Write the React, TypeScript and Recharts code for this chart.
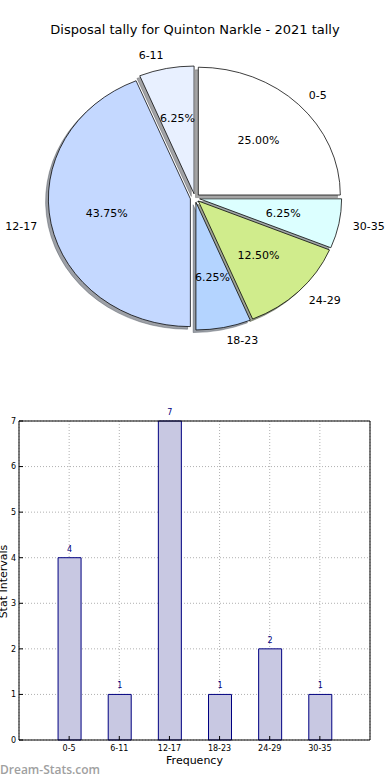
import React from 'react';
import {
  PieChart, Pie, Cell, BarChart, Bar, XAxis, YAxis, CartesianGrid, LabelList, Label,
} from 'recharts';

const categories = ['0-5', '6-11', '12-17', '18-23', '24-29', '30-35'];
const counts = [4, 1, 7, 1, 2, 1];
const pieColors = ['#ffffff', '#e8f0ff', '#c4d8ff', '#b4d4ff', '#d0ec8c', '#dcffff'];
const xPositions = [1, 2, 3, 4, 5, 6];
const yTicks = [0, 1, 2, 3, 4, 5, 6, 7];

const FONT = '"DejaVu Sans", sans-serif';
const CX = 195;
const CY = 198;
const R = 142;
const KY = 0.9;
const EXPLODE = 4.7;
const SHADOW_DX = -2.8;
const SHADOW_DY = 2.6;
const RAD = Math.PI / 180;

const total = counts.reduce((a, b) => a + b, 0);
const midAngles = counts.map((v, i) => {
  const before = counts.slice(0, i).reduce((a, b) => a + b, 0);
  return ((before + v / 2) / total) * 360;
});

const pieData = categories.map((name, i) => ({ name, value: counts[i] }));
const barData = categories.map((name, i) => ({ x: xPositions[i], name, value: counts[i] }));

function shadowColor(hex: string) {
  const n = parseInt(hex.slice(1), 16);
  const r = Math.round(((n >> 16) & 255) * 0.3);
  const g = Math.round(((n >> 8) & 255) * 0.3);
  const b = Math.round((n & 255) * 0.3);
  return `rgb(${r},${g},${b})`;
}

function sectorStyle(i: number, extraX: number, extraY: number): React.CSSProperties {
  const m = midAngles[i] * RAD;
  const dx = EXPLODE * Math.cos(m) + extraX;
  const dy = -EXPLODE * Math.sin(m) * KY + extraY;
  return {
    transform: `translate(${dx}px, ${dy}px) scale(1, ${KY})`,
    transformOrigin: `${CX}px ${CY}px`,
  };
}

const renderPieLabel = (p: any) => {
  const c = Math.cos(p.midAngle * RAD);
  const s = Math.sin(p.midAngle * RAD);
  const nr = EXPLODE + 1.1 * p.outerRadius;
  const pr = EXPLODE + 0.6 * p.outerRadius;
  return (
    <g key={`lbl-${p.index}`}>
      <text
        x={p.cx + nr * c}
        y={p.cy - nr * s * KY}
        textAnchor={c > 0 ? 'start' : 'end'}
        dominantBaseline="central"
        fontSize={11}
        fontFamily={FONT}
        fill="#000"
      >
        {p.name}
      </text>
      <text
        x={p.cx + pr * c}
        y={p.cy - pr * s * KY}
        textAnchor="middle"
        dominantBaseline="central"
        fontSize={11}
        fontFamily={FONT}
        fill="#000"
      >
        {(p.percent * 100).toFixed(2)}%
      </text>
    </g>
  );
};

export default function App() {
  return (
    <div style={{ position: 'absolute', left: 0, top: 0, width: 390, height: 780, background: '#fff', fontFamily: FONT, overflow: 'hidden' }}>
      <div
        style={{
          position: 'absolute', left: 0, top: 22, width: 390, textAlign: 'center',
          fontSize: 13, lineHeight: '15px', fontFamily: FONT, color: '#000',
        }}
      >
        Disposal tally for Quinton Narkle - 2021 tally
      </div>
      <div style={{ position: 'absolute', left: 0, top: 0 }}>
        <PieChart width={390} height={380} margin={{ top: 0, right: 0, bottom: 0, left: 0 }}>
          <Pie
            data={pieData}
            dataKey="value"
            nameKey="name"
            cx={CX}
            cy={CY}
            outerRadius={R}
            startAngle={0}
            endAngle={360}
            isAnimationActive={false}
            stroke="none"
          >
            {pieData.map((d, i) => (
              <Cell
                key={`s-${i}`}
                fill={shadowColor(pieColors[i])}
                fillOpacity={0.5}
                stroke={shadowColor(pieColors[i])}
                strokeOpacity={0.5}
                strokeWidth={0.8}
                style={sectorStyle(i, SHADOW_DX, SHADOW_DY)}
              />
            ))}
          </Pie>
          <Pie
            data={pieData}
            dataKey="value"
            nameKey="name"
            cx={CX}
            cy={CY}
            outerRadius={R}
            startAngle={0}
            endAngle={360}
            isAnimationActive={false}
            label={renderPieLabel}
            labelLine={false}
          >
            {pieData.map((d, i) => (
              <Cell
                key={`c-${i}`}
                fill={pieColors[i]}
                stroke="#000"
                strokeWidth={0.8}
                style={sectorStyle(i, 0, 0)}
              />
            ))}
          </Pie>
        </PieChart>
      </div>
      <div style={{ position: 'absolute', left: 0, top: 400 }}>
        <BarChart width={390} height={380} data={barData} margin={{ top: 0, right: 0, bottom: 0, left: 0 }}>
          <CartesianGrid stroke="#b0b0b0" strokeDasharray="1 2" />
          <XAxis
            dataKey="x"
            type="number"
            domain={[0, 7]}
            ticks={xPositions}
            interval={0}
            height={40}
            tickFormatter={(v: number) => categories[v - 1]}
            tick={{ fontSize: 8, fill: '#000', fontFamily: FONT }}
            tickSize={-4}
            tickMargin={9}
            axisLine={{ stroke: '#000' }}
            tickLine={{ stroke: '#000' }}
          >
            <Label value="Frequency" position="insideBottom" offset={16} fontSize={11} fill="#000" fontFamily={FONT} />
          </XAxis>
          <XAxis
            xAxisId="top"
            dataKey="x"
            type="number"
            orientation="top"
            domain={[0, 7]}
            ticks={xPositions}
            interval={0}
            height={21}
            tick={false}
            tickSize={-4}
            axisLine={{ stroke: '#000' }}
            tickLine={{ stroke: '#000' }}
          />
          <YAxis
            type="number"
            domain={[0, 7]}
            ticks={yTicks}
            interval={0}
            width={19}
            tick={{ fontSize: 8, fill: '#000', fontFamily: FONT }}
            tickSize={-4}
            tickMargin={7}
            axisLine={{ stroke: '#000' }}
            tickLine={{ stroke: '#000' }}
          />
          <YAxis
            yAxisId="right"
            orientation="right"
            type="number"
            domain={[0, 7]}
            ticks={yTicks}
            interval={0}
            width={20}
            tick={false}
            tickSize={-4}
            axisLine={{ stroke: '#000' }}
            tickLine={{ stroke: '#000' }}
          />
          <Bar dataKey="value" barSize={23} fill="#c8c8e2" stroke="#000080" strokeWidth={1} isAnimationActive={false}>
            <LabelList dataKey="value" position="top" offset={6} fill="#000080" fontSize={8} fontFamily={FONT} />
          </Bar>
        </BarChart>
      </div>
      <div
        style={{
          position: 'absolute', left: 2.5 - 60, top: 581 - 6.5, width: 120, height: 13,
          textAlign: 'center', fontSize: 11, lineHeight: '13px', fontFamily: FONT, color: '#000',
          transform: 'rotate(-90deg)', transformOrigin: '50% 50%', whiteSpace: 'nowrap',
        }}
      >
        Stat Intervals
      </div>
      <div
        style={{
          position: 'absolute', left: 0, top: 762, fontSize: 12, lineHeight: '16px',
          fontFamily: '"Open Sans", sans-serif', fontWeight: 600, color: '#a0a0a0',
        }}
      >
        Dream-Stats.com
      </div>
    </div>
  );
}
